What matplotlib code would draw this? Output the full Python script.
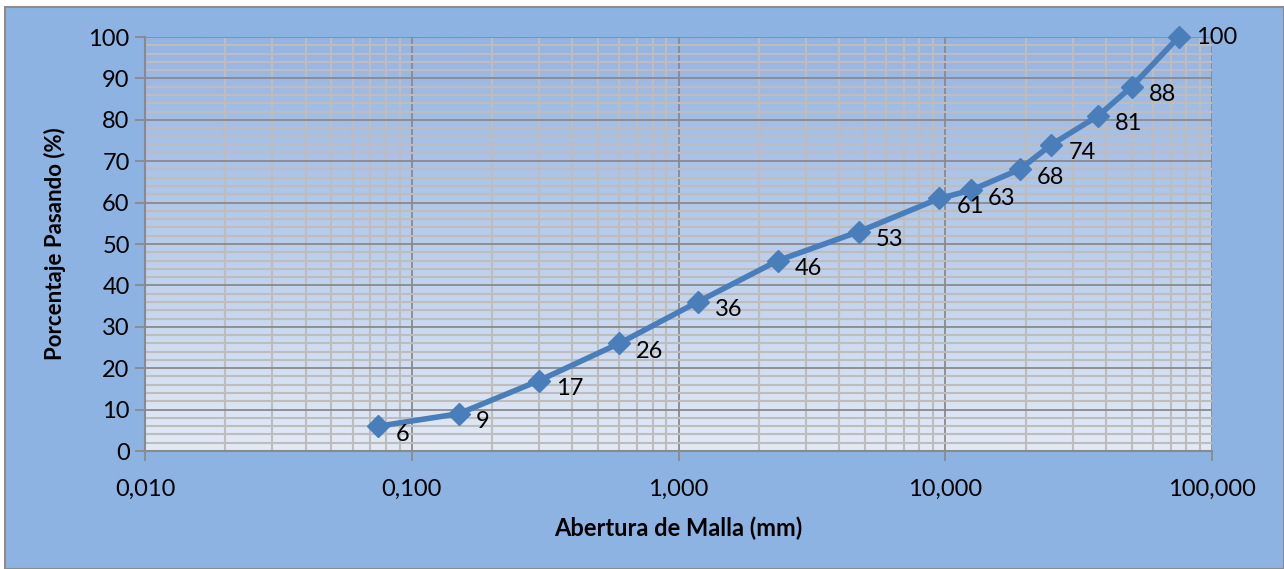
import numpy as np
import matplotlib.pyplot as plt
from matplotlib.colors import LinearSegmentedColormap
from matplotlib.ticker import FixedLocator, LogLocator, NullFormatter, MultipleLocator
from matplotlib.patches import Rectangle

# Granulometria: abertura de malla (mm) vs porcentaje pasando
abertura = [0.075, 0.15, 0.3, 0.6, 1.18, 2.36, 4.75, 9.5, 12.5, 19, 25, 37.5, 50, 75]
pasando = [6, 9, 17, 26, 36, 46, 53, 61, 63, 68, 74, 81, 88, 100]
xticks = [0.01, 0.1, 1, 10, 100]
xticklabels = ['0,010', '0,100', '1,000', '10,000', '100,000']
yticks = list(range(0, 101, 10))

plt.rcParams['font.family'] = ['Lato', 'DejaVu Sans']

W, H = 1284, 569
fig = plt.figure(figsize=(W / 100, H / 100), dpi=100)
fig.patch.set_facecolor('white')

# chart area with border
fig.patches.append(Rectangle((5 / W, 0), 1 - 5 / W, 1 - 7 / H, transform=fig.transFigure,
                             facecolor='#8DB3E2', edgecolor='#8C8C8C', linewidth=1.5, zorder=-5))

ax = fig.add_axes([145 / W, 1 - 451 / H, (1212 - 145) / W, (451 - 37) / H])
ax.set_xscale('log')

# gradient fill of the plot area
cmap = LinearSegmentedColormap.from_list('bg', ['#E3EAF6', '#BACDEB', '#95B4E2'])
grad = np.linspace(0, 1, 256).reshape(-1, 1)
ax.imshow(grad, cmap=cmap, aspect='auto', extent=[0, 1, 0, 1], origin='lower',
          transform=ax.transAxes, zorder=0)
ax.set_facecolor('none')
ax.set_xlim(0.01, 100)
ax.set_ylim(0, 100)

# grid
ax.xaxis.set_major_locator(FixedLocator(xticks))
ax.xaxis.set_minor_locator(LogLocator(base=10, subs=np.arange(2, 10)))
ax.xaxis.set_minor_formatter(NullFormatter())
ax.set_xticklabels(xticklabels)
ax.set_yticks(yticks)
ax.yaxis.set_minor_locator(MultipleLocator(2))
ax.grid(which='minor', color='#BDBDBD', linewidth=1.5, zorder=1)
ax.grid(which='major', color='#8A8A8A', linewidth=1.3, zorder=1)
ax.set_axisbelow(True)

for side in ['top', 'right']:
    ax.spines[side].set_visible(False)
for side in ['left', 'bottom']:
    ax.spines[side].set_color('#8A8A8A')
    ax.spines[side].set_linewidth(1.5)

ax.tick_params(which='major', length=7, width=1.3, color='#8A8A8A', labelsize=17,
               labelcolor='black', pad=4)
ax.tick_params(axis='x', which='major', pad=13)
ax.tick_params(which='minor', length=0)

ax.plot(abertura, pasando, color='#4A7EBB', linewidth=4, marker='D', markersize=11,
        markeredgecolor='#4A7EBB', zorder=3, clip_on=False)

for i, (x, y) in enumerate(zip(abertura, pasando)):
    dy = 0 if i == len(pasando) - 1 else -8
    ax.annotate(str(y), (x, y), xytext=(17, dy), textcoords='offset pixels',
                ha='left', va='center', fontsize=17, zorder=4, annotation_clip=False)

ax.set_xlabel('Abertura de Malla (mm)', fontsize=17, fontweight='bold', labelpad=12)
ax.set_ylabel('Porcentaje Pasando (%)', fontsize=16, fontweight='bold', labelpad=16)

fig.savefig('out.png', dpi=100)
